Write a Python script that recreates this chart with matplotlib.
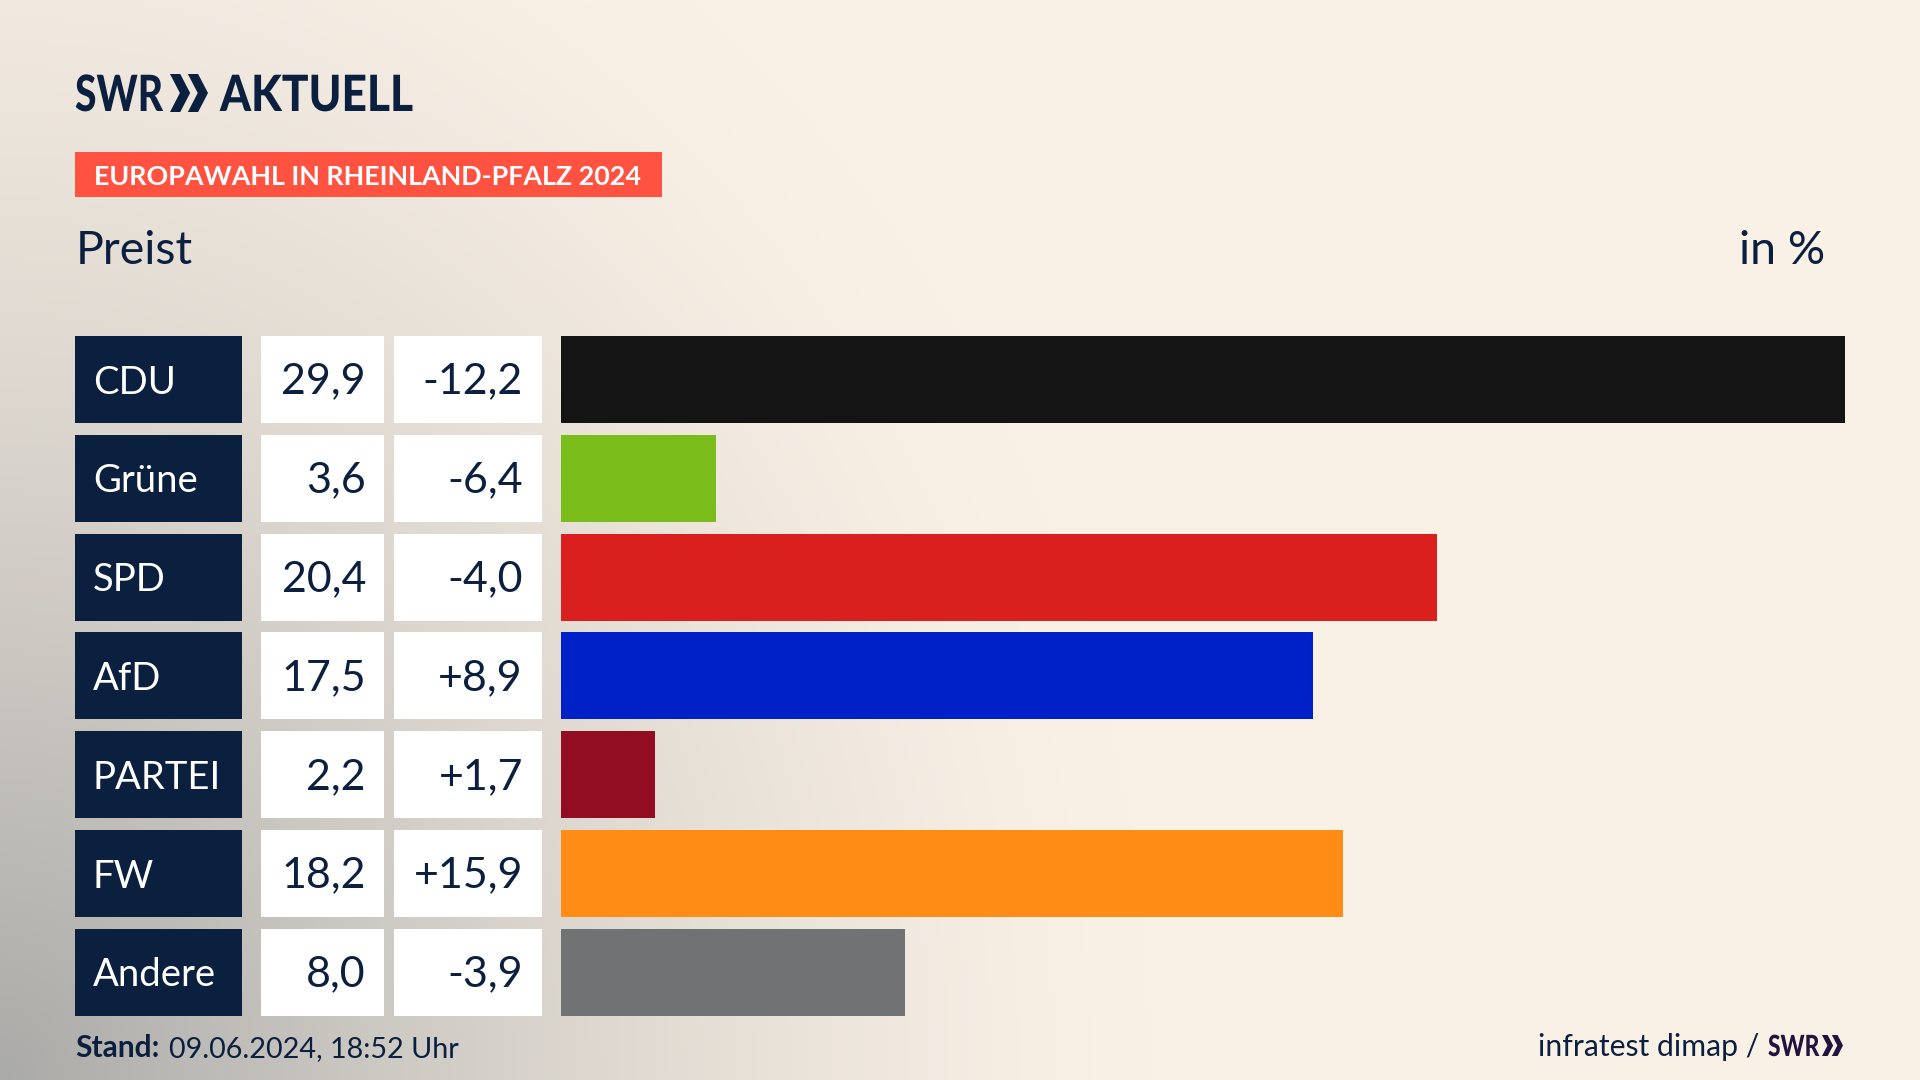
import matplotlib
matplotlib.use('Agg')
import matplotlib.pyplot as plt
from matplotlib.patches import Rectangle, Polygon
from matplotlib.patheffects import AbstractPathEffect
from matplotlib.transforms import Affine2D
import numpy as np

# data
parties = ['CDU', 'Grüne', 'SPD', 'AfD', 'PARTEI', 'FW', 'Andere']
shares = [29.9, 3.6, 20.4, 17.5, 2.2, 18.2, 8.0]
diffs = [-12.2, -6.4, -4.0, 8.9, 1.7, 15.9, -3.9]
bar_colors = ['#141414', '#7abd1b', '#d9201f', '#0021c8', '#930d22', '#ff8c14', '#717274']

NAVY = '#0b1f3f'
CREAM = np.array([250, 241, 230]) / 255
GREY = np.array([170, 170, 168]) / 255
FONT = 'Lato'

W, H = 1920, 1080
fig = plt.figure(figsize=(W / 100, H / 100), dpi=100)

# page axes in pixel coords, y going down
page = fig.add_axes([0, 0, 1, 1])
page.set_xlim(0, W)
page.set_ylim(H, 0)
page.axis('off')

# background wash from the lower left corner
xx, yy = np.meshgrid(np.linspace(0, 1, 480), np.linspace(0, 1, 270))
dist = np.sqrt((xx / 0.6) ** 2 + ((1 - yy) / 1.25) ** 2)
t = np.clip(1 - dist, 0, 1) ** 1.4
bg = CREAM + (GREY - CREAM) * t[..., None]
page.imshow(bg, extent=(0, W, H, 0), aspect='auto', zorder=0)

ROW_TOP = 336
ROW_STEP = 98.83
ROW_H = 87
rows = np.arange(len(parties))


class Squeeze(AbstractPathEffect):
    # narrows a text around x0, no condensed font is installed
    def __init__(self, x0, sx):
        super().__init__()
        self.x0 = x0
        self.sx = sx

    def draw_path(self, renderer, gc, tpath, affine, rgbFace=None):
        narrow = affine + Affine2D().translate(-self.x0, 0).scale(self.sx, 1).translate(self.x0, 0)
        renderer.draw_path(gc, tpath, narrow, rgbFace)


def chevrons(x, top, bottom, width, color):
    # the two arrow heads of the logo
    mid = (top + bottom) / 2
    t = width * 0.27
    for off in (0, width * 0.47):
        page.add_patch(Polygon([(x + off, top), (x + off + t, top), (x + off + width * 0.53, mid),
                                (x + off + t, bottom), (x + off, bottom), (x + off + width * 0.26, mid)],
                               closed=True, fc=color, ec='none', zorder=3))


def label(x, y, s, size, color=NAVY, ha='left', weight='normal', squeeze=None):
    txt = page.text(x, y, s, fontsize=size, color=color, ha=ha, va='baseline',
                    family=FONT, weight=weight, zorder=4)
    if squeeze:
        txt.set_path_effects([Squeeze(x, squeeze)])
    return txt


# header
label(75, 111, 'SWR', 36, weight='black', squeeze=0.78)
chevrons(170, 74, 112, 38, NAVY)
label(220, 111, 'AKTUELL', 36, weight='black', squeeze=0.885)
page.add_patch(Rectangle((75, 152), 587, 45, fc='#ff5240', ec='none', zorder=2))
label(94, 185, 'EUROPAWAHL IN RHEINLAND-PFALZ 2024', 19.4, color='white', weight='bold')
label(76, 264, 'Preist', 33.5)
label(1825, 264, 'in %', 33.5, ha='right')

# table cells
for i, (name, share, diff) in enumerate(zip(parties, shares, diffs)):
    top = ROW_TOP + i * ROW_STEP
    base = top + ROW_H / 2 + 14
    page.add_patch(Rectangle((75, top), 167, ROW_H, fc='#0b1f3f', ec='none', zorder=2))
    page.add_patch(Rectangle((261, top), 123, ROW_H, fc='white', ec='none', zorder=2))
    page.add_patch(Rectangle((394, top), 148, ROW_H, fc='white', ec='none', zorder=2))
    label(93, base, name, 27.5, color='white')
    label(366, base, f'{share:.1f}'.replace('.', ','), 31, ha='right')
    label(523, base, f'{diff:+.1f}'.replace('.', ','), 31, ha='right')

# bars
ax = fig.add_axes([561 / W, 1 - (ROW_TOP + 6 * ROW_STEP + ROW_H) / H, (1845 - 561) / W, (6 * ROW_STEP + ROW_H) / H])
ax.patch.set_alpha(0)
ax.barh(rows, shares, height=ROW_H / ROW_STEP, color=bar_colors)
ax.set_xlim(0, max(shares))
ax.set_ylim(6 + ROW_H / ROW_STEP / 2, -ROW_H / ROW_STEP / 2)
ax.axis('off')

# footer
label(75, 1057, 'Stand:', 21.5, weight='bold')
label(169, 1057, '09.06.2024, 18:52 Uhr', 20.7)
label(1759, 1056, 'infratest dimap /', 21.7, ha='right')
label(1768, 1056, 'SWR', 21, color='#24123f', weight='black', squeeze=0.78)
chevrons(1822, 1035, 1056, 21, '#24123f')

fig.savefig('out.png', dpi=100)
